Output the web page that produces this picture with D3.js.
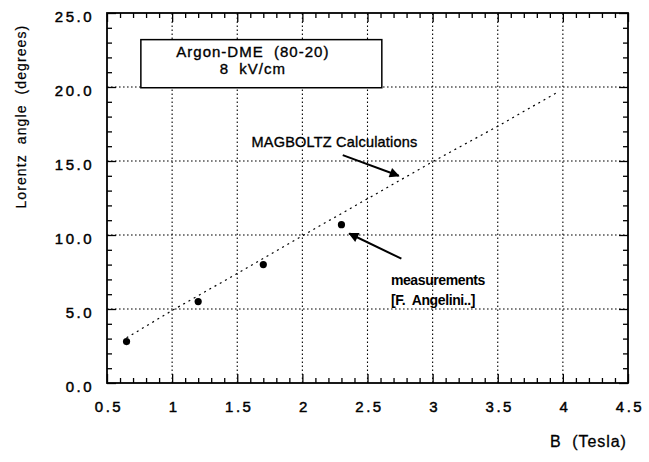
<!DOCTYPE html>
<html>
<head>
<meta charset="utf-8">
<script src="https://cdn.jsdelivr.net/npm/d3@7"></script>
<style>
  body { margin: 0; background: #fff; }
  svg { font-family: "Liberation Sans", Arial, Helvetica, sans-serif; }
  .tick text { fill: #000; }
</style>
</head>
<body>
<div id="chart"></div>
<script>
// data
const calcB = [0.65, 1.0, 1.5, 2.0, 2.5, 3.0, 3.5, 3.96];
const calcAngle = [3.05, 4.9, 7.4, 9.95, 12.45, 14.95, 17.35, 19.65];

const measB = [0.65, 1.2, 1.7, 2.3];
const measAngle = [2.8, 5.5, 8.0, 10.7];

const xTicks = [0.5, 1, 1.5, 2, 2.5, 3, 3.5, 4, 4.5];
const xTickLabels = ["0.5", "1", "1.5", "2", "2.5", "3", "3.5", "4", "4.5"];
const yTicks = [0, 5, 10, 15, 20, 25];
const yTickLabels = ["0.0", "5.0", "10.0", "15.0", "20.0", "25.0"];

const width = 649, height = 462;
const margin = { left: 107, right: 21, top: 13, bottom: 79 };

const svg = d3.select("#chart").append("svg")
    .attr("width", width)
    .attr("height", height);

const x = d3.scaleLinear().domain([0.5, 4.5]).range([margin.left, width - margin.right]);
const y = d3.scaleLinear().domain([0, 25]).range([height - margin.bottom, margin.top]);

const x0 = x.range()[0], x1 = x.range()[1];
const y0 = y.range()[0], y1 = y.range()[1];

// dotted grid
const grid = svg.append("g").attr("stroke", "#000").attr("stroke-width", 1.1)
    .attr("stroke-dasharray", "1.6,2.4");
grid.selectAll(".gx").data(xTicks.slice(1, -1)).enter().append("line")
    .attr("x1", d => x(d)).attr("x2", d => x(d)).attr("y1", y0).attr("y2", y1);
grid.selectAll(".gy").data(yTicks.slice(1, -1)).enter().append("line")
    .attr("x1", x0).attr("x2", x1).attr("y1", d => y(d)).attr("y2", d => y(d));

// minor ticks
const xMinor = d3.range(5, 46).map(d => d / 10).filter(d => Math.round(d * 10) % 5 !== 0);
const yMinor = d3.range(0, 26).filter(d => d % 5 !== 0);

function styleAxis(g) {
    g.select(".domain").remove();
    g.selectAll(".tick line").attr("stroke", "#000").attr("stroke-width", 1.3);
}

svg.append("g").attr("transform", `translate(0,${y0})`)
    .call(d3.axisBottom(x).tickValues(xMinor).tickSize(-5).tickFormat(""))
    .call(styleAxis);
svg.append("g").attr("transform", `translate(0,${y1})`)
    .call(d3.axisTop(x).tickValues(xMinor).tickSize(-5).tickFormat(""))
    .call(styleAxis);
svg.append("g").attr("transform", `translate(${x0},0)`)
    .call(d3.axisLeft(y).tickValues(yMinor).tickSize(-5).tickFormat(""))
    .call(styleAxis);
svg.append("g").attr("transform", `translate(${x1},0)`)
    .call(d3.axisRight(y).tickValues(yMinor).tickSize(-5).tickFormat(""))
    .call(styleAxis);

// major ticks with labels
const xAxis = svg.append("g").attr("transform", `translate(0,${y0})`)
    .call(d3.axisBottom(x).tickValues(xTicks).tickSize(-9).tickPadding(18)
        .tickFormat((d, i) => xTickLabels[i]))
    .call(styleAxis);
xAxis.selectAll(".tick text")
    .attr("font-size", 15).attr("letter-spacing", 2.5)
    .attr("font-family", "Liberation Sans, Arial, sans-serif")
    .attr("stroke", "#000").attr("stroke-width", 0.45)
    .attr("dx", 1.5);

const yAxis = svg.append("g").attr("transform", `translate(${x0},0)`)
    .call(d3.axisLeft(y).tickValues(yTicks).tickSize(-9).tickPadding(13)
        .tickFormat((d, i) => yTickLabels[i]))
    .call(styleAxis);
yAxis.selectAll(".tick text")
    .attr("font-size", 15).attr("letter-spacing", 2.5)
    .attr("font-family", "Liberation Sans, Arial, sans-serif")
    .attr("stroke", "#000").attr("stroke-width", 0.45)
    .attr("dy", "0.55em");

svg.append("g").attr("transform", `translate(0,${y1})`)
    .call(d3.axisTop(x).tickValues(xTicks).tickSize(-9).tickFormat(""))
    .call(styleAxis);
svg.append("g").attr("transform", `translate(${x1},0)`)
    .call(d3.axisRight(y).tickValues(yTicks).tickSize(-9).tickFormat(""))
    .call(styleAxis);

// frame
svg.append("rect")
    .attr("x", x0).attr("y", y1)
    .attr("width", x1 - x0).attr("height", y0 - y1)
    .attr("fill", "none").attr("stroke", "#000").attr("stroke-width", 1.8);

// legend box
const boxB = [0.76, 2.61], boxA = [23.2, 19.95];
svg.append("rect")
    .attr("x", x(boxB[0])).attr("y", y(boxA[0]))
    .attr("width", x(boxB[1]) - x(boxB[0])).attr("height", y(boxA[1]) - y(boxA[0]))
    .attr("fill", "#fff").attr("stroke", "#000").attr("stroke-width", 1.5);

const legText = svg.append("g").attr("font-size", 15).attr("text-anchor", "middle")
    .attr("fill", "#000").attr("stroke", "#000").attr("stroke-width", 0.35)
    .attr("letter-spacing", 1);
legText.append("text").attr("x", x(1.62)).attr("y", y(22.0))
    .attr("xml:space", "preserve").text("Argon-DME  (80-20)");
legText.append("text").attr("x", x(1.62)).attr("y", y(20.86))
    .attr("xml:space", "preserve").text("8  kV/cm");

// MAGBOLTZ calculation (dotted line)
const line = d3.line().x((d, i) => x(calcB[i])).y(d => y(d));
svg.append("path")
    .datum(calcAngle)
    .attr("d", line)
    .attr("fill", "none")
    .attr("stroke", "#000")
    .attr("stroke-width", 1.2)
    .attr("stroke-dasharray", "2,4");

// measurements
svg.selectAll(".meas").data(measAngle).enter().append("circle")
    .attr("cx", (d, i) => x(measB[i]))
    .attr("cy", d => y(d))
    .attr("r", 3.6)
    .attr("fill", "#000");

// annotations
svg.append("defs").append("marker")
    .attr("id", "head")
    .attr("viewBox", "0 0 10 10")
    .attr("refX", 9).attr("refY", 5)
    .attr("markerWidth", 6).attr("markerHeight", 5)
    .attr("markerUnits", "strokeWidth")
    .attr("orient", "auto")
    .append("path").attr("d", "M0,0 L10,5 L0,10 z").attr("fill", "#000");

const arrows = [
    { from: [2.31, 15.4], to: [2.74, 14.0] },
    { from: [2.76, 8.4], to: [2.36, 10.1] }
];
svg.selectAll(".arrow").data(arrows).enter().append("line")
    .attr("x1", d => x(d.from[0])).attr("y1", d => y(d.from[1]))
    .attr("x2", d => x(d.to[0])).attr("y2", d => y(d.to[1]))
    .attr("stroke", "#000").attr("stroke-width", 2)
    .attr("marker-end", "url(#head)");

svg.append("text")
    .attr("x", x(1.61)).attr("y", y(15.95))
    .attr("font-size", 14.5).attr("letter-spacing", 0.2)
    .attr("fill", "#000").attr("stroke", "#000").attr("stroke-width", 0.35)
    .text("MAGBOLTZ Calculations");

const measText = svg.append("g").attr("font-size", 14).attr("font-weight", "bold")
    .attr("letter-spacing", -0.4).attr("fill", "#000");
measText.append("text").attr("x", x(2.68)).attr("y", y(6.6)).text("measurements");
measText.append("text").attr("x", x(2.68)).attr("y", y(5.25))
    .attr("xml:space", "preserve").text("[F.  Angelini..]");

// axis titles
svg.append("text")
    .attr("x", x(4.49)).attr("y", 447)
    .attr("text-anchor", "end")
    .attr("font-size", 16).attr("letter-spacing", 0.9)
    .attr("fill", "#000").attr("stroke", "#000").attr("stroke-width", 0.3)
    .attr("xml:space", "preserve")
    .text("B  (Tesla)");

svg.append("text")
    .attr("transform", `translate(26,${y(18.0)}) rotate(-90)`)
    .attr("text-anchor", "middle")
    .attr("font-size", 14).attr("letter-spacing", 1.1)
    .attr("fill", "#000").attr("stroke", "#000").attr("stroke-width", 0.2)
    .attr("xml:space", "preserve")
    .text("Lorentz  angle  (degrees)");
</script>
</body>
</html>
